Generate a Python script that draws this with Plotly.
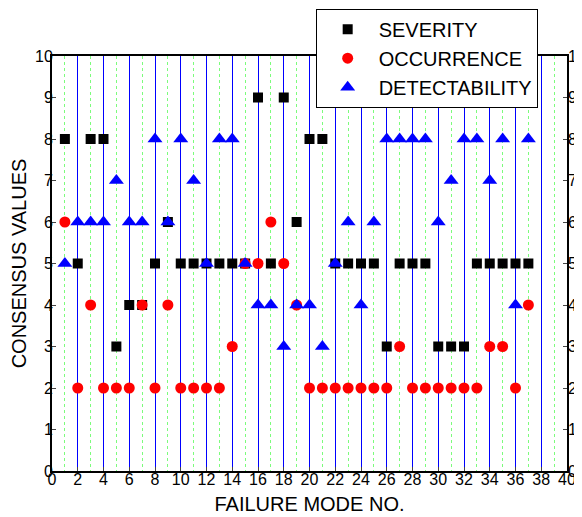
import plotly.graph_objects as go

modes = list(range(1, 38))
severity = [8, 5, 8, 8, 3, 4, 4, 5, 6, 5, 5, 5, 5, 5, 5, 9, 5, 9, 6, 8, 8,
            5, 5, 5, 5, 3, 5, 5, 5, 3, 3, 3, 5, 5, 5, 5, 5]
occurrence = [6, 2, 4, 2, 2, 2, 4, 2, 4, 2, 2, 2, 2, 3, 5, 5, 6, 5, 4, 2, 2,
              2, 2, 2, 2, 2, 3, 2, 2, 2, 2, 2, 2, 3, 3, 2, 4]
detectability = [5, 6, 6, 6, 7, 6, 6, 8, 6, 8, 7, 5, 8, 8, 5, 4, 4, 3, 4, 4, 3,
                 5, 6, 4, 6, 8, 8, 8, 8, 6, 7, 8, 8, 7, 8, 4, 8]
y_ticks = list(range(0, 11))
x_ticks = list(range(0, 41, 2))

font = dict(family="Liberation Sans, Arial, sans-serif", color="black")

fig = go.Figure()
fig.add_trace(go.Scatter(x=modes, y=severity, mode="markers", name="SEVERITY",
                         marker=dict(symbol="square", size=10, color="black")))
fig.add_trace(go.Scatter(x=modes, y=occurrence, mode="markers", name="OCCURRENCE",
                         marker=dict(symbol="circle", size=11, color="red")))
fig.add_trace(go.Scatter(x=modes, y=detectability, mode="markers", name="DETECTABILITY",
                         marker=dict(symbol="triangle-up", size=13, color="blue")))
fig.add_trace(go.Scatter(x=[None], y=[None], yaxis="y2", showlegend=False,
                         hoverinfo="skip"))

# page body adds an 8px offset; compensate in size and margins
fig.update_layout(
    width=574, height=509,
    margin=dict(l=44, r=15, t=48, b=46, autoexpand=False),
    paper_bgcolor="white", plot_bgcolor="white",
    font=dict(size=15, **font),
    xaxis=dict(range=[0, 40], tickvals=x_ticks, ticks="inside", ticklen=4,
               showline=True, linecolor="black", linewidth=2, mirror=True,
               showgrid=True, gridcolor="blue", gridwidth=1,
               minor=dict(dtick=1, tick0=0, showgrid=True, gridcolor="#7CFC7C",
                          griddash="dot", gridwidth=1),
               zeroline=False, automargin=False, ticklabelstandoff=-7,
               title=dict(text="FAILURE MODE NO.", font=dict(size=20), standoff=10),
               tickfont=dict(size=16)),
    yaxis=dict(range=[0, 10], tickvals=y_ticks, ticks="inside", ticklen=4,
               showline=True, linecolor="black", linewidth=2, mirror=True,
               showgrid=False, zeroline=False, automargin=False,
               ticklabelstandoff=-6,
               title=dict(text="CONSENSUS VALUES", font=dict(size=20), standoff=3),
               tickfont=dict(size=16)),
    yaxis2=dict(range=[0, 10], tickvals=y_ticks, overlaying="y", side="right",
                ticks="inside", ticklen=4, showgrid=False, zeroline=False,
                showline=False, automargin=False, ticklabelstandoff=0,
                tickfont=dict(size=16)),
    legend=dict(x=0.512, y=1.114, xanchor="left", yanchor="top",
                bgcolor="white", bordercolor="black", borderwidth=1,
                font=dict(size=20), itemwidth=52),
)

fig.write_html("out.html")
